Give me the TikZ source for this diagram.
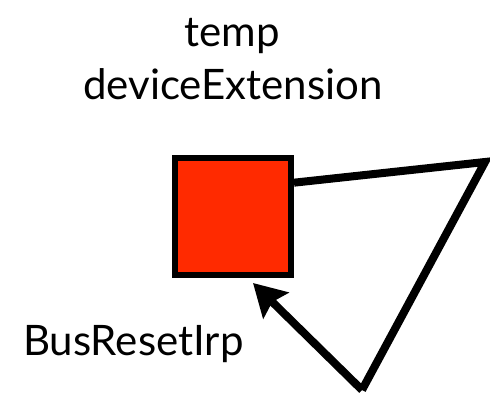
\documentclass[tikz,border=0pt]{standalone}
\usepackage{fontspec}
\setmainfont{Lato}
\usetikzlibrary{arrows.meta}
\definecolor{extred}{HTML}{FF2A00}
\tikzset{
  lbl/.style={font=\fontsize{42}{46}\selectfont, inner sep=0pt},
  wire/.style={line width=8pt, line join=miter, draw=black}
}
\begin{document}
\begin{tikzpicture}[x=1pt, y=-1pt]
\useasboundingbox (0,0) rectangle (490,401);
\node[lbl, anchor=base] (temp) at (232,47) {temp};
\node[lbl, anchor=base] (devext) at (233,100) {deviceExtension};
\node[lbl, anchor=base west] (busreset) at (23,355) {BusResetIrp};
\node[draw=black, fill=extred, line width=6pt, minimum size=116pt, inner sep=0pt] (ext) at (233,216.5) {};
\coordinate (corner) at (485,162);
\coordinate (bottom) at (362,390);
\coordinate (tip) at (253,283);
\path [wire] (ext.29) -- (corner) -- (bottom);
\path [wire, -{Stealth[length=32pt, width=36pt, inset=5pt]}] (bottom) -- (tip);
\end{tikzpicture}
\end{document}
